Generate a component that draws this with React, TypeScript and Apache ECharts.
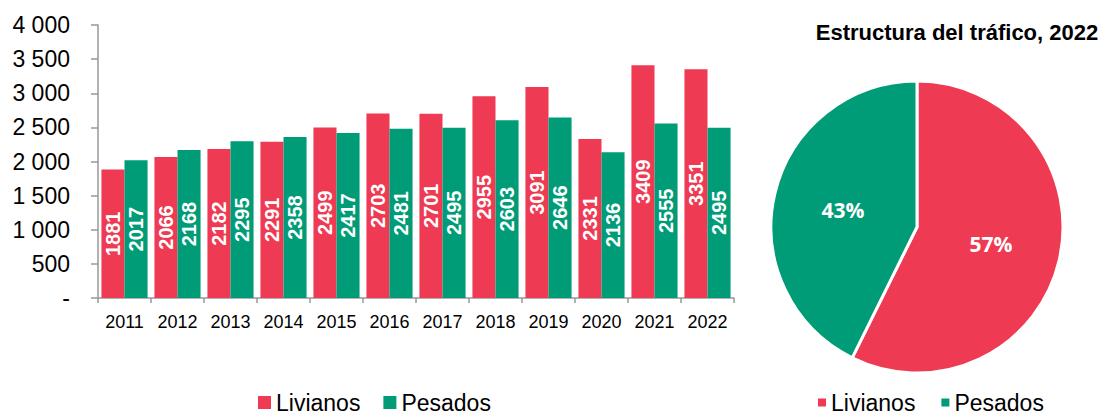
import React, { useEffect, useRef } from "react";
import * as echarts from "echarts";

const years = ["2011", "2012", "2013", "2014", "2015", "2016", "2017", "2018", "2019", "2020", "2021", "2022"];
const livianos = [1881, 2066, 2182, 2291, 2499, 2703, 2701, 2955, 3091, 2331, 3409, 3351];
const pesados = [2017, 2168, 2295, 2358, 2417, 2481, 2495, 2603, 2646, 2136, 2555, 2495];
const pieData = [
  { name: "Livianos", value: 3351 },
  { name: "Pesados", value: 2495 },
];
const RED = "#EE3A52";
const GREEN = "#009B77";
const FONT = "Liberation Sans, Arial, sans-serif";

function fmt(v: number) {
  if (v === 0) return "-";
  const s = String(v);
  return s.length > 3 ? s.slice(0, s.length - 3) + " " + s.slice(-3) : s;
}

export default function App() {
  const ref = useRef<HTMLDivElement>(null);
  useEffect(() => {
    const chart = echarts.init(ref.current!, null, { renderer: "svg" });
    const barLabel = {
      show: true,
      position: "inside",
      rotate: 90,
      color: "#fff",
      fontWeight: "bold",
      fontSize: 20,
      fontFamily: FONT,
    };
    chart.setOption({
      animation: false,
      textStyle: { fontFamily: FONT },
      title: {
        text: "Estructura del tráfico, 2022",
        left: 952,
        top: 16,
        textAlign: "center",
        textStyle: { fontSize: 22, fontWeight: "bold", color: "#000", fontFamily: FONT },
      },
      legend: [
        {
          data: ["Livianos", "Pesados"],
          left: 258,
          top: 391,
          icon: "rect",
          itemWidth: 13,
          itemHeight: 13,
          itemGap: 23,
          textStyle: { fontSize: 23, color: "#000", fontFamily: FONT },
          padding: 0,
        },
        {
          data: ["Livianos", "Pesados"],
          left: 818,
          top: 391,
          icon: "rect",
          itemWidth: 8,
          itemHeight: 8,
          itemGap: 26,
          textStyle: { fontSize: 23, color: "#000", fontFamily: FONT },
          padding: 0,
        },
      ],
      grid: { left: 98, right: 375, top: 25, bottom: 118, containLabel: false },
      xAxis: {
        type: "category",
        data: years,
        axisLine: { lineStyle: { color: "#999", width: 1.5 } },
        axisTick: { show: true, alignWithLabel: false, length: 5, lineStyle: { color: "#999", width: 1.5 } },
        axisLabel: { color: "#000", fontSize: 18, margin: 15, fontFamily: FONT },
      },
      yAxis: {
        type: "value",
        min: 0,
        max: 4000,
        interval: 500,
        splitLine: { show: false },
        axisLine: { show: true, lineStyle: { color: "#999", width: 1.5 } },
        axisTick: { show: true, length: 7, lineStyle: { color: "#999", width: 1.5 } },
        axisLabel: { color: "#000", fontSize: 23, margin: 28, fontFamily: FONT, formatter: (v: number) => fmt(v) },
      },
      series: [
        {
          name: "Livianos",
          type: "bar",
          data: livianos,
          barGap: "0%",
          barCategoryGap: "13%",
          itemStyle: { color: RED },
          label: barLabel,
        },
        {
          name: "Pesados",
          type: "bar",
          data: pesados,
          itemStyle: { color: GREEN },
          label: barLabel,
        },
        {
          name: "Estructura",
          type: "pie",
          center: [917, 227],
          radius: 146,
          startAngle: 90,
          clockwise: true,
          data: pieData.map((d, i) => ({ ...d, itemStyle: { color: i === 0 ? RED : GREEN } })),
          itemStyle: { borderColor: "#fff", borderWidth: 3 },
          label: {
            show: true,
            position: "inside",
            color: "#fff",
            fontWeight: "bold",
            fontSize: 21,
            fontFamily: "Open Sans, sans-serif",
            formatter: (p: any) => Math.round(p.percent) + "%",
          },
          labelLine: { show: false },
          emphasis: { disabled: true },
        },
      ],
    });
    return () => chart.dispose();
  }, []);
  return <div ref={ref} style={{ width: 1109, height: 416, position: "absolute", left: 0, top: 0 }} />;
}
